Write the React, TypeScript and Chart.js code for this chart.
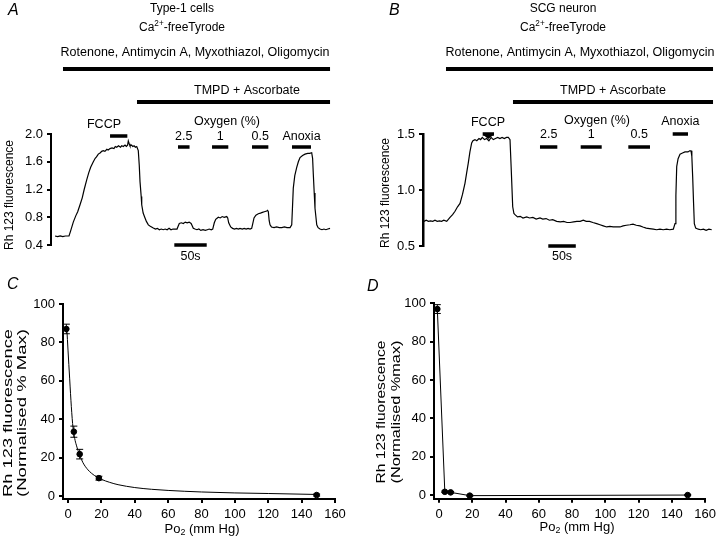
import React, { useEffect, useRef } from "react";
import { Chart, registerables } from "chart.js";

Chart.register(...registerables);

const SANS = "'Liberation Sans', Arial, Helvetica, sans-serif";
Chart.defaults.font.family = SANS;
Chart.defaults.color = "#000";

// ---------------- Panel A: Type-1 cells trace (time s, Rh 123 fluorescence) ----------------
const A_TRACE: [number, number][] = [
  [0, 0.53], [4, 0.52], [8, 0.53], [12, 0.52], [16, 0.53], [21.6, 0.53],
  [24, 0.6], [28.2, 0.73], [32, 0.82], [35, 0.88], [38.6, 0.98], [42, 1.08], [45, 1.2], [48.9, 1.34],
  [52, 1.44], [55, 1.52], [59.1, 1.6], [62, 1.65], [64, 1.67], [66.8, 1.71], [70, 1.73], [72, 1.75],
  [74.5, 1.76], [77, 1.75], [80, 1.78], [82, 1.77], [84.9, 1.79], [88, 1.8], [91, 1.79], [93, 1.82],
  [95.2, 1.81], [98, 1.83], [101, 1.81], [103, 1.83], [105.4, 1.82], [108, 1.84], [110, 1.82], [112, 1.84],
  [113.1, 1.9], [114.5, 1.86], [115.7, 1.83], [118, 1.84], [120, 1.82], [122, 1.83], [124, 1.81], [126.1, 1.82],
  [128.5, 1.76], [130, 1.55], [131.2, 1.31], [133, 1.1], [133.8, 0.98], [136, 0.86], [138.9, 0.79], [141, 0.74],
  [144, 0.69], [147, 0.67], [151.7, 0.645], [155, 0.63], [158, 0.64], [161, 0.62], [164, 0.63], [167, 0.62],
  [170, 0.63], [173, 0.62], [176, 0.64], [179, 0.62], [182, 0.63], [185, 0.63], [188.3, 0.63], [190, 0.67],
  [191.8, 0.71], [195, 0.72], [198, 0.71], [201, 0.73], [204, 0.72], [207, 0.73], [210, 0.71], [211.5, 0.68],
  [213.4, 0.64], [216, 0.63], [219, 0.62], [222, 0.63], [225, 0.61], [228.4, 0.62], [232, 0.61], [235, 0.62],
  [238, 0.63], [241, 0.62], [243.4, 0.63], [245.8, 0.72], [248, 0.77], [252, 0.8], [255, 0.79], [258, 0.81],
  [261, 0.8], [265, 0.81], [266.5, 0.79], [268, 0.72], [271.1, 0.66], [274, 0.64], [277, 0.63], [280, 0.64],
  [283, 0.63], [285.5, 0.64], [289, 0.63], [292, 0.64], [295, 0.63], [298, 0.64], [301, 0.63], [303.5, 0.64],
  [305, 0.7], [307.1, 0.79], [310, 0.83], [313.7, 0.85], [317, 0.86], [320, 0.87], [323, 0.88], [326.7, 0.89],
  [328, 0.9], [329.2, 0.88], [330.5, 0.75], [331.8, 0.69], [334, 0.66], [338, 0.65], [342, 0.66], [346, 0.65],
  [350, 0.65], [354, 0.66], [358, 0.65], [362.7, 0.65], [365.3, 0.69], [366.5, 0.95], [367.7, 1.22], [370, 1.4],
  [373, 1.52], [375.5, 1.6], [378.1, 1.66], [382, 1.69], [385.8, 1.71], [390, 1.72], [393, 1.72], [396.1, 1.73],
  [397.5, 1.65], [398.6, 1.42], [400, 1.15], [401.2, 0.93], [403.9, 0.69], [406, 0.65], [408.9, 0.63], [412, 0.62],
  [415, 0.63], [418, 0.62], [421, 0.63], [424.4, 0.64],
];
const A_Y_TICKS = [0.4, 0.8, 1.2, 1.6, 2.0];
const A_ROTENONE_S = [12.3, 424.4];
const A_TMPD_S = [126.5, 424.4];
const A_FCCP_S = [84.9, 111.6];
const A_O2_S: [number, number][] = [[189.8, 207.6], [242.3, 267.4], [304, 329.2]];
const A_ANOXIA_S = [365.7, 395];
const A_SCALE_S = [184.1, 234.1];

// ---------------- Panel B: SCG neuron trace ----------------
const B_TRACE: [number, number][] = [
  [0, 0.72], [4, 0.73], [8, 0.72], [12, 0.725], [16, 0.72], [20, 0.73], [24, 0.72], [28, 0.725],
  [32, 0.72], [36, 0.73], [41.3, 0.72], [47.3, 0.756], [52, 0.78], [56.4, 0.81], [61, 0.85], [65.5, 0.88],
  [70, 0.96], [74.5, 1.06], [77.5, 1.15], [80.5, 1.24], [83.5, 1.34], [86.7, 1.42], [89, 1.44], [92.7, 1.45],
  [96, 1.44], [100, 1.46], [103, 1.45], [106, 1.47], [110, 1.45], [114, 1.46], [118, 1.44], [122, 1.47],
  [126, 1.45], [130, 1.46], [134, 1.47], [138, 1.46], [142, 1.47], [146, 1.46], [150, 1.47], [153.3, 1.47],
  [156.4, 1.45], [158.5, 1.2], [161.3, 0.85], [163.5, 0.79], [165.5, 0.78], [170, 0.76], [175, 0.765], [180, 0.75],
  [186.7, 0.76], [192, 0.75], [198, 0.755], [204, 0.74], [210.9, 0.75], [216, 0.74], [222, 0.745], [228, 0.73],
  [234, 0.735], [241.3, 0.72], [248, 0.715], [254, 0.72], [260, 0.71], [265.5, 0.71], [272, 0.715], [278, 0.72],
  [284, 0.72], [289.6, 0.73], [295, 0.72], [301, 0.72], [307, 0.71], [314, 0.7], [320, 0.69], [326, 0.68],
  [332.2, 0.67], [338, 0.675], [344, 0.67], [350, 0.672], [356.4, 0.67], [362, 0.68], [368, 0.685], [374.5, 0.69],
  [380, 0.695], [386, 0.685], [392.7, 0.68], [398, 0.67], [404, 0.66], [410, 0.655], [416.9, 0.65], [423, 0.645],
  [429, 0.65], [435, 0.645], [441, 0.65], [447, 0.645], [453.3, 0.65], [456.4, 0.7], [458, 0.95], [459.5, 1.21],
  [462, 1.28], [465.5, 1.32], [470, 1.33], [474.5, 1.34], [480, 1.34], [483, 1.35], [485.5, 1.35], [487, 1.3],
  [488.5, 1.12], [490, 0.9], [491.5, 0.7], [494, 0.66], [498.7, 0.65], [503, 0.645], [508, 0.65], [513, 0.64],
  [518, 0.65], [523.1, 0.645],
];
const B_Y_TICKS = [0.5, 1.0, 1.5];
const B_ROTENONE_S = [40, 525.5];
const B_TMPD_S = [161.8, 525.5];
const B_FCCP_S = [106.7, 127.3];
const B_O2_S: [number, number][] = [[210.9, 242.4], [284.9, 323.1], [371.5, 410.9]];
const B_ANOXIA_S = [452.2, 480];
const B_SCALE_S = [226, 276];

const O2_LABELS = ["2.5", "1", "0.5"];

// ---------------- Panel C: Type-1 cells, normalised vs PO2 ----------------
const C_PO2 = [-1, 3.5, 7, 18.5, 149];
const C_RH = [87, 33.5, 21.8, 9.3, 0.5];
const C_ERR = [2.5, 2.9, 2.5, 1.0, 0.5];
const C_FIT_PO2 = [-0.7, 0, 1, 2, 3, 4, 5, 7, 9, 12, 16, 20, 25, 30, 40, 50, 60, 80, 100, 120, 149];
const C_FIT_RH = [87, 76, 61, 46.5, 35.5, 30, 26.5, 21.3, 17.3, 13.6, 10.6, 8.7, 7.1, 5.9, 4.4, 3.5, 2.9, 2.1, 1.6, 1.3, 0.8];

// ---------------- Panel D: SCG neuron, normalised vs PO2 ----------------
const D_PO2 = [-1, 3.5, 7, 18.5, 149.5];
const D_RH = [97, 1.7, 1.4, -0.3, 0];
const D_ERR = [2.3, 0.4, 0.4, 0.3, 0.3];

const PO2_TICKS = [0, 20, 40, 60, 80, 100, 120, 140, 160];
const NORM_TICKS = [0, 20, 40, 60, 80, 100];

// ---------------- drawing helpers ----------------
function setFont(ctx: CanvasRenderingContext2D, size: number, style = "") {
  ctx.font = `${style} ${size}px ${SANS}`.trim();
}
function label(ctx: CanvasRenderingContext2D, s: string, x: number, y: number, size: number, align: CanvasTextAlign = "center", style = "") {
  setFont(ctx, size, style);
  ctx.textAlign = align;
  ctx.textBaseline = "middle";
  ctx.fillStyle = "#000";
  ctx.fillText(s, x, y);
}
type Seg = { t: string; k?: "sup" | "sub" };
function rich(ctx: CanvasRenderingContext2D, segs: Seg[], x: number, y: number, size: number) {
  const small = size * 0.68;
  ctx.textBaseline = "middle";
  ctx.textAlign = "left";
  ctx.fillStyle = "#000";
  let total = 0;
  const widths = segs.map((s) => {
    setFont(ctx, s.k ? small : size);
    const w = ctx.measureText(s.t).width;
    total += w;
    return w;
  });
  let cx = x - total / 2;
  segs.forEach((s, i) => {
    setFont(ctx, s.k ? small : size);
    const dy = s.k === "sup" ? -size * 0.33 : s.k === "sub" ? size * 0.3 : 0;
    ctx.fillText(s.t, cx, y + dy);
    cx += widths[i];
  });
}
function vtitle(ctx: CanvasRenderingContext2D, lines: string[], xs: number[], cy: number, size: number, len?: number) {
  setFont(ctx, size);
  ctx.fillStyle = "#000";
  ctx.textAlign = "center";
  ctx.textBaseline = "middle";
  lines.forEach((s, i) => {
    const w = ctx.measureText(s).width;
    const k = len ? len / w : 1;
    ctx.save();
    ctx.translate(xs[i], cy);
    ctx.rotate(-Math.PI / 2);
    ctx.scale(k, 1);
    ctx.fillText(s, 0, 0);
    ctx.restore();
  });
}
function hbar(chart: any, t0: number, t1: number, y: number, h: number) {
  const xs = chart.scales.x;
  const x0 = xs.getPixelForValue(t0);
  const x1 = xs.getPixelForValue(t1);
  chart.ctx.fillStyle = "#000";
  chart.ctx.fillRect(x0, y - h / 2, x1 - x0, h);
  return (x0 + x1) / 2;
}
function errorBars(chart: any, px: number[], py: number[], err: number[]) {
  const ctx = chart.ctx;
  const xs = chart.scales.x;
  const ys = chart.scales.y;
  ctx.save();
  ctx.strokeStyle = "#000";
  ctx.lineWidth = 1;
  px.forEach((v, i) => {
    const x = xs.getPixelForValue(v);
    const y0 = ys.getPixelForValue(py[i] - err[i]);
    const y1 = ys.getPixelForValue(py[i] + err[i]);
    ctx.beginPath();
    ctx.moveTo(x, y0); ctx.lineTo(x, y1);
    ctx.moveTo(x - 3.5, y0); ctx.lineTo(x + 3.5, y0);
    ctx.moveTo(x - 3.5, y1); ctx.lineTo(x + 3.5, y1);
    ctx.stroke();
  });
  ctx.restore();
}

const SOLUTION: Seg[] = [{ t: "Ca" }, { t: "2+", k: "sup" }, { t: "-freeTyrode" }];
const PO2_TITLE: Seg[] = [{ t: "Po" }, { t: "2", k: "sub" }, { t: " (mm Hg)" }];
const DRUGS = "Rotenone, Antimycin A, Myxothiazol, Oligomycin";
const TMPD = "TMPD + Ascorbate";
const RH_TITLE = "Rh 123 fluorescence";

function yAxis(min: number, max: number, ticks: number[], width: number, borderW: number, fmt?: (v: number) => string) {
  return {
    type: "linear",
    min,
    max,
    afterBuildTicks: (s: any) => { s.ticks = ticks.map((v) => ({ value: v })); },
    afterFit: (s: any) => { s.width = width; },
    ticks: {
      callback: (v: any) => (fmt ? fmt(Number(v)) : String(v)),
      font: { size: 13, family: SANS },
      color: "#000",
      padding: 4,
    },
    grid: { drawOnChartArea: false, drawTicks: true, tickLength: 4, color: "#000", lineWidth: 2 },
    border: { display: true, color: "#000", width: borderW },
  };
}
function xAxisPO2() {
  return {
    type: "linear",
    min: -3,
    max: 160,
    afterBuildTicks: (s: any) => { s.ticks = PO2_TICKS.map((v) => ({ value: v })); },
    afterFit: (s: any) => { s.height = 22; },
    ticks: { font: { size: 13, family: SANS }, color: "#000", padding: 4, maxRotation: 0, autoSkip: false },
    grid: { drawOnChartArea: false, drawTicks: true, tickLength: 4, color: "#000", lineWidth: 2 },
    border: { display: true, color: "#000", width: 2 },
  };
}
function traceDataset(trace: [number, number][]) {
  return {
    data: trace.map(([x, y]) => ({ x, y })),
    showLine: true,
    borderColor: "#000",
    borderWidth: 1.2,
    pointRadius: 0,
    tension: 0,
    clip: false,
  };
}
const baseOpts = {
  responsive: false,
  animation: false,
  events: [],
  plugins: { legend: { display: false }, tooltip: { enabled: false } },
};

function configA(): any {
  return {
    type: "scatter",
    data: { datasets: [traceDataset(A_TRACE)] },
    options: {
      ...baseOpts,
      layout: { padding: { left: 0, top: 134, right: 15, bottom: 25 } },
      scales: {
        x: { type: "linear", min: -6.2, max: 447.5, display: false },
        y: yAxis(0.4, 2.0, A_Y_TICKS, 51, 2, (v) => v.toFixed(1)),
      },
    },
    plugins: [{
      id: "annA",
      afterDraw(chart: any) {
        const ctx = chart.ctx;
        ctx.save();
        label(ctx, "A", 8, 11, 16, "left", "italic");
        label(ctx, "Type-1 cells", 182, 9, 12);
        rich(ctx, SOLUTION, 182, 28, 12);
        label(ctx, DRUGS, 195, 53, 12.5);
        hbar(chart, A_ROTENONE_S[0], A_ROTENONE_S[1], 69, 4);
        label(ctx, TMPD, 247, 91, 12.5);
        hbar(chart, A_TMPD_S[0], A_TMPD_S[1], 102, 4);
        label(ctx, "FCCP", 104, 125, 12.5);
        hbar(chart, A_FCCP_S[0], A_FCCP_S[1], 136, 3.5);
        label(ctx, "Oxygen (%)", 227, 122, 12.5);
        A_O2_S.forEach(([a, b], i) => {
          const c = hbar(chart, a, b, 147, 3.5);
          label(ctx, O2_LABELS[i], c, 137, 12.5);
        });
        const ca = hbar(chart, A_ANOXIA_S[0], A_ANOXIA_S[1], 147, 3.5);
        label(ctx, "Anoxia", ca, 137, 12.5);
        const cs = hbar(chart, A_SCALE_S[0], A_SCALE_S[1], 245, 3.5);
        label(ctx, "50s", cs, 257, 12.5);
        vtitle(ctx, [RH_TITLE], [10], 195, 12);
        ctx.restore();
      },
    }],
  };
}

function configB(): any {
  return {
    type: "scatter",
    data: { datasets: [traceDataset(B_TRACE)] },
    options: {
      ...baseOpts,
      layout: { padding: { left: 0, top: 134, right: 5, bottom: 24 } },
      scales: {
        x: { type: "linear", min: -1.8, max: 529.1, display: false },
        y: yAxis(0.5, 1.5, B_Y_TICKS, 63, 2.5, (v) => v.toFixed(1)),
      },
    },
    plugins: [{
      id: "annB",
      afterDraw(chart: any) {
        const ctx = chart.ctx;
        ctx.save();
        label(ctx, "B", 29, 11, 16, "left", "italic");
        label(ctx, "SCG neuron", 203, 9, 12);
        rich(ctx, SOLUTION, 203, 28, 12);
        label(ctx, DRUGS, 220, 53, 12.5);
        hbar(chart, B_ROTENONE_S[0], B_ROTENONE_S[1], 69, 4);
        label(ctx, TMPD, 253, 91, 12.5);
        hbar(chart, B_TMPD_S[0], B_TMPD_S[1], 102, 4);
        label(ctx, "FCCP", 128, 123, 12.5);
        const cf = hbar(chart, B_FCCP_S[0], B_FCCP_S[1], 134, 3.5);
        ctx.beginPath();
        ctx.moveTo(cf - 5, 135); ctx.lineTo(cf + 5, 135); ctx.lineTo(cf, 139); ctx.closePath();
        ctx.fill();
        label(ctx, "Oxygen (%)", 237, 121, 12.5);
        B_O2_S.forEach(([a, b], i) => {
          const c = hbar(chart, a, b, 147, 3.5);
          label(ctx, O2_LABELS[i], c, 135, 12.5);
        });
        const ca = hbar(chart, B_ANOXIA_S[0], B_ANOXIA_S[1], 134, 3.5);
        label(ctx, "Anoxia", ca, 122, 12.5);
        const cs = hbar(chart, B_SCALE_S[0], B_SCALE_S[1], 246, 3.5);
        label(ctx, "50s", cs, 257, 12.5);
        vtitle(ctx, [RH_TITLE], [26], 193, 12);
        ctx.restore();
      },
    }],
  };
}

function configC(): any {
  return {
    type: "scatter",
    data: {
      datasets: [
        {
          data: C_FIT_PO2.map((x, i) => ({ x, y: C_FIT_RH[i] })),
          showLine: true,
          borderColor: "#000",
          borderWidth: 1,
          pointRadius: 0,
          cubicInterpolationMode: "monotone",
          clip: false,
        },
        {
          data: C_PO2.map((x, i) => ({ x, y: C_RH[i] })),
          showLine: false,
          pointRadius: 2.8,
          backgroundColor: "#000",
          borderColor: "#000",
          clip: false,
        },
      ],
    },
    options: {
      ...baseOpts,
      layout: { padding: { left: 0, top: 34, right: 25, bottom: 21 } },
      scales: {
        x: xAxisPO2(),
        y: yAxis(-1.56, 100, NORM_TICKS, 63, 2),
      },
    },
    plugins: [{
      id: "annC",
      beforeDatasetsDraw(chart: any) { errorBars(chart, C_PO2, C_RH, C_ERR); },
      afterDraw(chart: any) {
        const ctx = chart.ctx;
        ctx.save();
        label(ctx, "C", 7, 15, 16, "left", "italic");
        vtitle(ctx, [RH_TITLE, "(Normalised % Max)"], [9, 23], 143, 12, 168);
        rich(ctx, PO2_TITLE, 202, 259, 13);
        ctx.restore();
      },
    }],
  };
}

function configD(): any {
  return {
    type: "scatter",
    data: {
      datasets: [
        {
          data: D_PO2.map((x, i) => ({ x, y: D_RH[i] })),
          showLine: true,
          borderColor: "#000",
          borderWidth: 1,
          pointRadius: 2.8,
          backgroundColor: "#000",
          tension: 0,
          clip: false,
        },
      ],
    },
    options: {
      ...baseOpts,
      layout: { padding: { left: 0, top: 33.3, right: 13, bottom: 21.3 } },
      scales: {
        x: xAxisPO2(),
        y: yAxis(-1.9, 100, NORM_TICKS, 74, 2),
      },
    },
    plugins: [{
      id: "annD",
      beforeDatasetsDraw(chart: any) { errorBars(chart, D_PO2, D_RH, D_ERR); },
      afterDraw(chart: any) {
        const ctx = chart.ctx;
        ctx.save();
        label(ctx, "D", 7, 17, 16, "left", "italic");
        vtitle(ctx, [RH_TITLE, "(Normalised %max)"], [22, 37], 142, 12, 143);
        rich(ctx, PO2_TITLE, 217, 257, 13);
        ctx.restore();
      },
    }],
  };
}

function Panel(props: { left: number; top: number; width: number; height: number; make: () => any }) {
  const ref = useRef<HTMLCanvasElement>(null);
  useEffect(() => {
    const chart = new Chart(ref.current as HTMLCanvasElement, props.make());
    return () => chart.destroy();
  }, []);
  return (
    <canvas
      ref={ref}
      width={props.width}
      height={props.height}
      style={{ position: "absolute", left: props.left, top: props.top, width: props.width, height: props.height }}
    />
  );
}

export default function App() {
  return (
    <div style={{ position: "absolute", left: 0, top: 0, width: 720, height: 542, background: "#fff", overflow: "hidden" }}>
      <Panel left={0} top={0} width={360} height={270} make={configA} />
      <Panel left={360} top={0} width={360} height={270} make={configB} />
      <Panel left={0} top={270} width={360} height={272} make={configC} />
      <Panel left={360} top={270} width={360} height={272} make={configD} />
    </div>
  );
}
